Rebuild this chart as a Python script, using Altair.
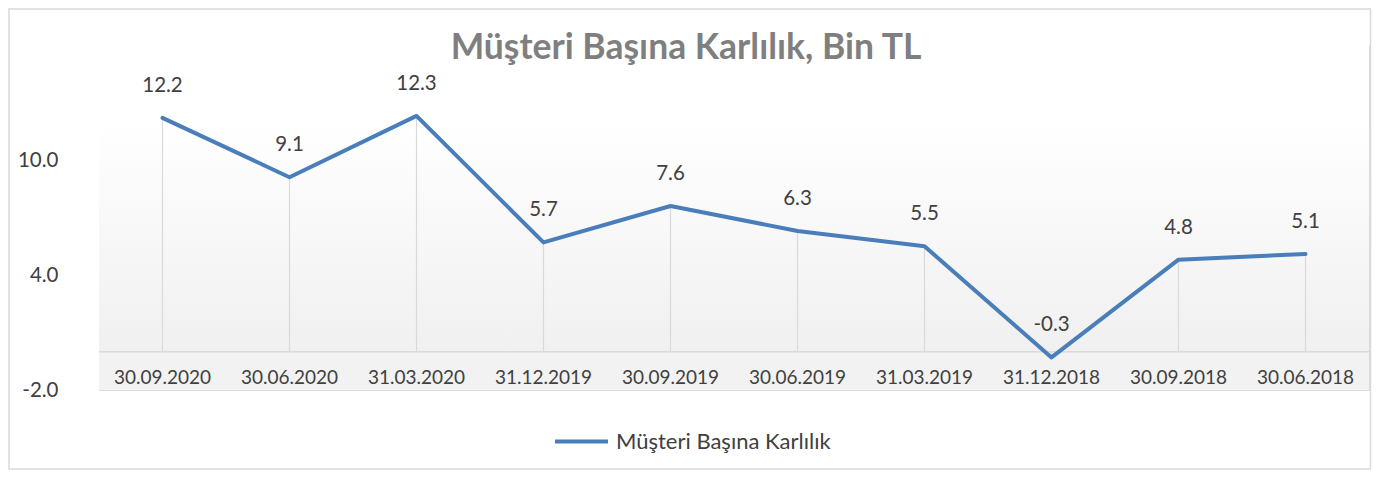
import altair as alt
import pandas as pd

categories = ["30.09.2020", "30.06.2020", "31.03.2020", "31.12.2019", "30.09.2019",
              "30.06.2019", "31.03.2019", "31.12.2018", "30.09.2018", "30.06.2018"]
values = [12.2, 9.1, 12.3, 5.7, 7.6, 6.3, 5.5, -0.3, 4.8, 5.1]
series_name = "Müşteri Başına Karlılık"
title_text = "Müşteri Başına Karlılık, Bin TL"
y_ticks = [-2, 4, 10]
y_min, y_max = -2, 16

FONT = "Lato"
W, H = 1270, 345
LINE_COLOR = "#4a7ebb"
TEXT_COLOR = "#404040"

df = pd.DataFrame({
    "cat": categories,
    "val": values,
    "label": [f"{v:.1f}" for v in values],
    "series": [series_name] * len(values),
})
one = pd.DataFrame({"a": [0]})

xscale = alt.Scale(type="point", padding=0.5, domain=categories)
yscale = alt.Scale(domain=[y_min, y_max], nice=False, zero=False)
yaxis = alt.Axis(values=y_ticks, grid=False, domain=False, ticks=False, tickSize=0, labelPadding=41,
                 labelFontSize=20.5, labelFont=FONT, labelColor=TEXT_COLOR, title=None,
                 labelExpr="datum.value < 0 ? '-' + format(-datum.value, '.1f') : format(datum.value, '.1f')")


def X():
    return alt.X("cat:N", scale=xscale, axis=None, sort=categories)


def Y():
    return alt.Y("val:Q", scale=yscale, axis=yaxis)


border = alt.Chart(one).mark_rect(fill="transparent", stroke="#d9d9d9", strokeWidth=1.5).encode(
    x=alt.value(-90), x2=alt.value(W + 1.5), y=alt.value(-36), y2=alt.value(H + 79)
)

bg = alt.Chart(one).mark_rect(
    color=alt.LinearGradient(
        gradient="linear",
        stops=[alt.GradientStop(color="#ffffff", offset=0),
               alt.GradientStop(color="#ffffff", offset=0.25),
               alt.GradientStop(color="#f0f0f0", offset=1)],
        x1=0, x2=0, y1=0, y2=1,
    )
).encode(
    x=alt.value(0), x2=alt.value(W),
    y=alt.datum(y_max, scale=yscale, axis=yaxis), y2=alt.datum(0),
)

band = alt.Chart(one).mark_rect(color="#f2f2f2").encode(
    x=alt.value(0), x2=alt.value(W),
    y=alt.datum(0, scale=yscale, axis=yaxis), y2=alt.datum(y_min),
)

drops = alt.Chart(df).mark_rule(color="#d9d9d9", strokeWidth=1.2).encode(
    x=X(), y=Y(), y2=alt.datum(0),
)

zero_line = alt.Chart(one).mark_rule(color="#d9d9d9", strokeWidth=1.5).encode(
    y=alt.datum(0, scale=yscale, axis=yaxis), x=alt.value(0), x2=alt.value(W)
)

line = alt.Chart(df).mark_line(strokeWidth=4, strokeCap="round", strokeJoin="round").encode(
    x=X(), y=Y(),
    color=alt.Color("series:N", scale=alt.Scale(range=[LINE_COLOR]),
                    legend=alt.Legend(title=None, orient="none", legendX=454, legendY=368,
                                      symbolType="stroke", symbolSize=2809, symbolStrokeWidth=4,
                                      labelFontSize=22, labelFont=FONT, labelColor=TEXT_COLOR,
                                      labelLimit=400, padding=0, labelOffset=6)),
)

val_labels = alt.Chart(df).mark_text(fontSize=20.5, font=FONT, color=TEXT_COLOR, dy=-32, baseline="middle").encode(
    x=X(), y=Y(), text="label:N",
)

cat_labels = alt.Chart(df).mark_text(fontSize=19, font=FONT, color=TEXT_COLOR, baseline="middle").encode(
    x=X(), y=alt.datum(-1.35, scale=yscale, axis=yaxis), text="cat:N",
)

chart = alt.layer(border, bg, band, drops, zero_line, line, val_labels, cat_labels).properties(
    width=W, height=H,
    title=alt.TitleParams(title_text, fontSize=35.5, font=FONT, fontWeight="bold", color="#7f7f7f",
                          anchor="middle", dx=-48, dy=62),
    padding={"left": 91, "top": 37, "right": 4, "bottom": 80},
    autosize=alt.AutoSizeParams(type="none"),
).configure_view(stroke=None).configure(background="white")

chart.save("out.html", embed_options={"renderer": "svg", "actions": False})
